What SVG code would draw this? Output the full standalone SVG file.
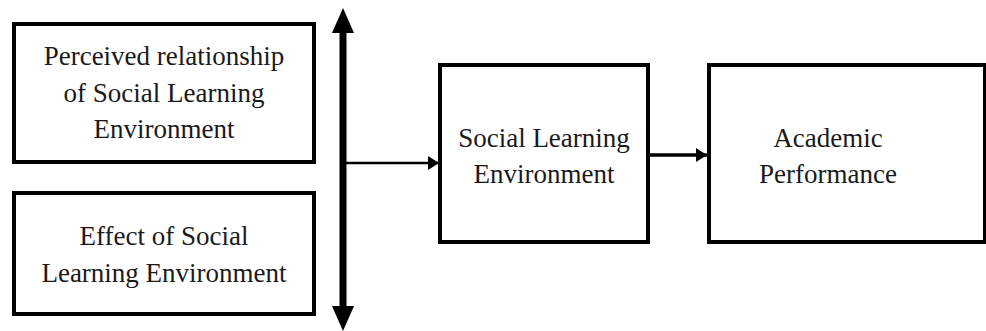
<svg xmlns="http://www.w3.org/2000/svg" width="986" height="331" viewBox="0 0 986 331">
<style>
.box{fill:#fff;stroke:#000;stroke-width:4}
.t{font-family:'Liberation Serif','DejaVu Serif',serif;font-size:27px;fill:#1a1a1a;text-anchor:middle}
</style>
<defs>
<marker id="ah" markerWidth="11" markerHeight="14" refX="11" refY="7" orient="auto" markerUnits="userSpaceOnUse">
<path d="M0,0 L11,7 L0,14 Z" fill="#000"/>
</marker>
</defs>
<rect width="986" height="331" fill="#fff"/>
<g id="n1">
<rect class="box" x="14" y="24" width="300" height="138"/>
<text class="t" x="164" y="65">Perceived relationship</text>
<text class="t" x="164" y="102">of Social Learning</text>
<text class="t" x="164" y="138">Environment</text>
</g>
<g id="n2">
<rect class="box" x="14" y="193" width="300" height="121"/>
<text class="t" x="164" y="245">Effect of Social</text>
<text class="t" x="164" y="282">Learning Environment</text>
</g>
<g id="n3">
<rect class="box" x="440" y="65" width="208" height="177"/>
<text class="t" x="544" y="147">Social Learning</text>
<text class="t" x="544" y="183">Environment</text>
</g>
<g id="n4">
<rect class="box" x="709" y="65" width="276" height="177"/>
<text class="t" x="828" y="147">Academic</text>
<text class="t" x="828" y="183">Performance</text>
</g>
<g id="connectors">
<line x1="343" y1="30" x2="343" y2="310" stroke="#000" stroke-width="7"/>
<path d="M343,8 L354,33 L332,33 Z" fill="#000"/>
<path d="M343,331 L354,306 L332,306 Z" fill="#000"/>
<line x1="343" y1="163" x2="439" y2="163" stroke="#000" stroke-width="2.5" marker-end="url(#ah)"/>
<line x1="650" y1="155" x2="707" y2="155" stroke="#000" stroke-width="3.5" marker-end="url(#ah)"/>
</g>
</svg>
